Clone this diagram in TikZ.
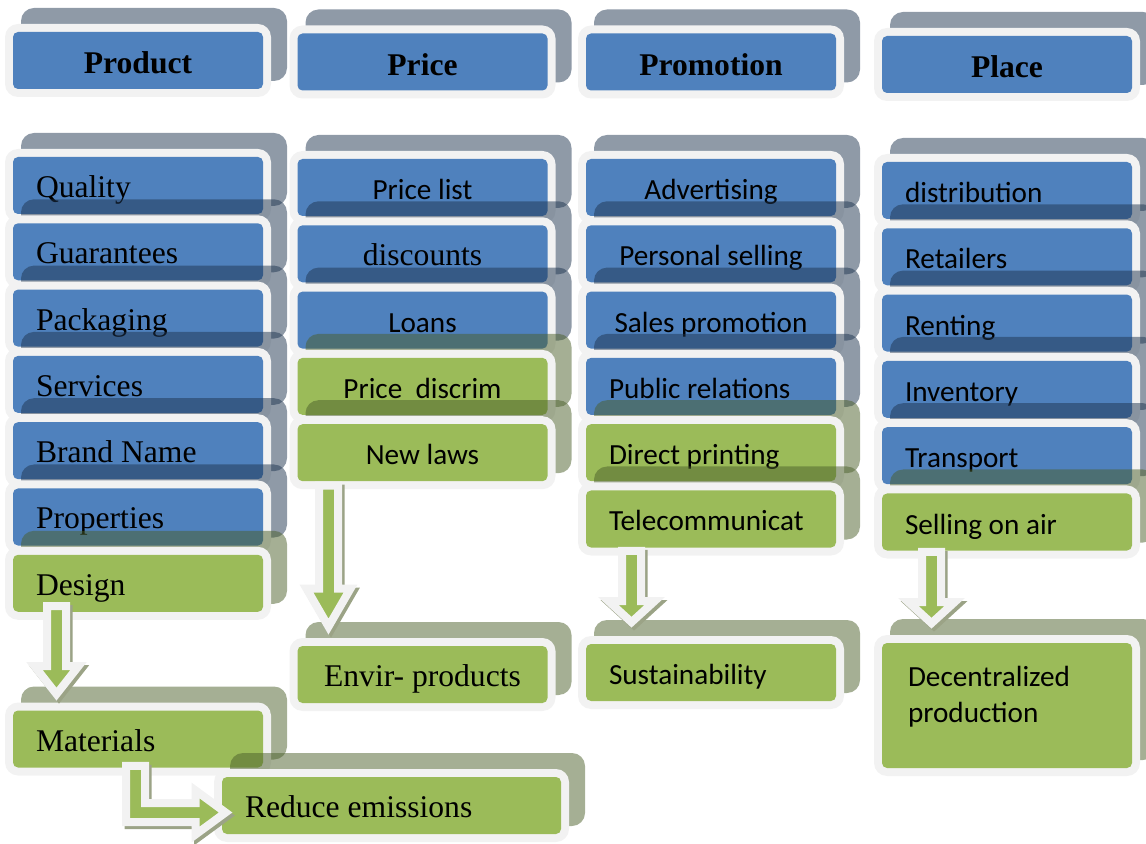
\documentclass[tikz,border=0pt]{standalone}
\usepackage{fontspec}
\setmainfont{Liberation Serif}
\newfontfamily\calibri{Carlito}
\usepackage{tikz}
\usetikzlibrary{positioning, calc, shadows}

\definecolor{boxblue}{HTML}{4F81BD}
\definecolor{boxgreen}{HTML}{9BBB59}
\definecolor{rimgrey}{HTML}{F2F2F2}
\definecolor{blueshade}{HTML}{1F3550}
\definecolor{greenshade}{HTML}{4B5F2A}
\definecolor{arrowshade}{HTML}{9BA386}

\tikzset{
    card/.style={rectangle, rounded corners=6.5pt, fill=rimgrey, inner sep=0pt,
        minimum width=133pt, minimum height=36.5pt, text height=18pt, text depth=6pt,
        path picture={\fill[#1, rounded corners=2.5pt]
            ([shift={(4pt,-4pt)}]path picture bounding box.north west) rectangle
            ([shift={(-4pt,4pt)}]path picture bounding box.south east);}},
    bluecard/.style={card=boxblue, drop shadow={shadow xshift=8pt, shadow yshift=8pt, fill=blueshade, opacity=.5}},
    greencard/.style={card=boxgreen, drop shadow={shadow xshift=8pt, shadow yshift=8pt, fill=greenshade, opacity=.5}},
    head/.style={font=\fontsize{15.8}{19}\selectfont\bfseries, text height=19.5pt},
    serif/.style={font=\fontsize{15.8}{19}\selectfont},
    sans/.style={font=\calibri\fontsize{14.6}{18.3}\selectfont},
    lefttext/.style={text width=102pt, align=flush left},
    flow/.style={fill=boxgreen, draw=rimgrey, line width=4pt, line join=miter},
    flowshade/.style={fill=arrowshade, draw=arrowshade, line width=4pt, line join=miter,
        transform canvas={xshift=1.25pt, yshift=-1.5pt}},
}

% block arrow pointing down: start, tip, head half width, head length
\newcommand{\flowdown}[4]{%
  \foreach \st in {flowshade, flow}
    \draw[\st] let \p1=#1, \p2=#2 in
      (\x1-4.75pt,\y1) -- (\x1-4.75pt,\y2+#4) -- (\x1-#3,\y2+#4) -- (\x1,\y2)
      -- (\x1+#3,\y2+#4) -- (\x1+4.75pt,\y2+#4) -- (\x1+4.75pt,\y1) -- cycle;
}

\begin{document}
\begin{tikzpicture}[x=0.5pt, y=-0.5pt, node distance=-3.75pt]
    \useasboundingbox (0,0) rectangle (1146,844);
    \clip (0,0) rectangle (1146,844);

    % Product
    \node [bluecard, head] (product) at (138,60.5) {Product};
    \node [bluecard, serif, lefttext] (quality) at (138,185.5) {Quality};
    \node [bluecard, serif, lefttext, below=of quality] (guarantees) {Guarantees};
    \node [bluecard, serif, lefttext, below=of guarantees] (packaging) {Packaging};
    \node [bluecard, serif, lefttext, below=of packaging] (services) {Services};
    \node [bluecard, serif, lefttext, below=of services] (brandname) {Brand Name};
    \node [bluecard, serif, lefttext, below=of brandname] (properties) {Properties};
    \node [greencard, serif, lefttext, below=of properties] (design) {Design};
    \node [greencard, serif, lefttext] (materials) at (138,739) {Materials};
    \node [greencard, serif, text width=146.5pt, align=flush left, minimum width=177.5pt] (reduce) at (391.5,805.5) {Reduce emissions};

    % Price
    \node [bluecard, head] (price) at (422.5,62) {Price};
    \node [bluecard, sans] (pricelist) at (422.5,187.5) {Price list};
    \node [bluecard, serif, below=of pricelist] (discounts) {discounts};
    \node [bluecard, sans, below=of discounts] (loans) {Loans};
    \node [greencard, sans, below=of loans] (pricediscrim) {Price~ discrim};
    \node [greencard, sans, below=of pricediscrim] (newlaws) {New laws};
    \node [greencard, serif] (envir) at (422.5,674.5) {Envir- products};

    % Promotion
    \node [bluecard, head] (promotion) at (711,62) {Promotion};
    \node [bluecard, sans] (advertising) at (711,187.5) {Advertising};
    \node [bluecard, sans, below=of advertising] (personalselling) {Personal selling};
    \node [bluecard, sans, below=of personalselling] (salespromotion) {Sales promotion};
    \node [bluecard, sans, lefttext, below=of salespromotion] (publicrelations) {Public relations};
    \node [greencard, sans, lefttext, below=of publicrelations] (directprinting) {Direct printing};
    \node [greencard, sans, lefttext, below=of directprinting] (telecom) {Telecommunicat};
    \node [greencard, sans, lefttext] (sustain) at (711,672.5) {Sustainability};

    % Place
    \node [bluecard, head] (place) at (1007,64.5) {Place};
    \node [bluecard, sans, lefttext] (distribution) at (1007,190.5) {distribution};
    \node [bluecard, sans, lefttext, below=of distribution] (retailers) {Retailers};
    \node [bluecard, sans, lefttext, below=of retailers] (renting) {Renting};
    \node [bluecard, sans, lefttext, below=of renting] (inventory) {Inventory};
    \node [bluecard, sans, lefttext, below=of inventory] (transport) {Transport};
    \node [greencard, sans, lefttext, below=of transport] (sellingonair) {Selling on air};
    \node [greencard, sans, text width=99pt, align=flush left, minimum height=70.5pt,
        text height=10pt, text depth=29.5pt] (decentral) at (1007,705.5) {Decentralized\\production};

    % arrows
    \flowdown{($(design.south)+(-40.75pt,7pt)$)}{($(materials.north)+(-40.75pt,4pt)$)}{11pt}{14pt}
    \flowdown{($(newlaws.south)+(-47pt,2pt)$)}{($(envir.north)+(-47pt,5.5pt)$)}{11pt}{19pt}
    \flowdown{($(telecom.south)+(-39.75pt,2.5pt)$)}{($(sustain.north)+(-39.75pt,6.7pt)$)}{11.5pt}{10.5pt}
    \flowdown{($(sellingonair.south)+(-37.75pt,3.5pt)$)}{($(decentral.north)+(-37.75pt,5.7pt)$)}{11.5pt}{10.5pt}
    \foreach \st in {flowshade, flow}
      \draw[\st] let \p1=(materials.south), \p2=(reduce.west) in
        (\x1-6pt,\y1+5pt) -- (\x1-6pt,\y2-8.25pt) -- (\x2-9pt,\y2-8.25pt) -- (\x2-9pt,\y2-14.5pt)
        -- (\x2+6pt,\y2-3.5pt) -- (\x2-9pt,\y2+7.5pt) -- (\x2-9pt,\y2+1.25pt)
        -- (\x1+3.5pt,\y2+1.25pt) -- (\x1+3.5pt,\y1+5pt) -- cycle;
\end{tikzpicture}
\end{document}
